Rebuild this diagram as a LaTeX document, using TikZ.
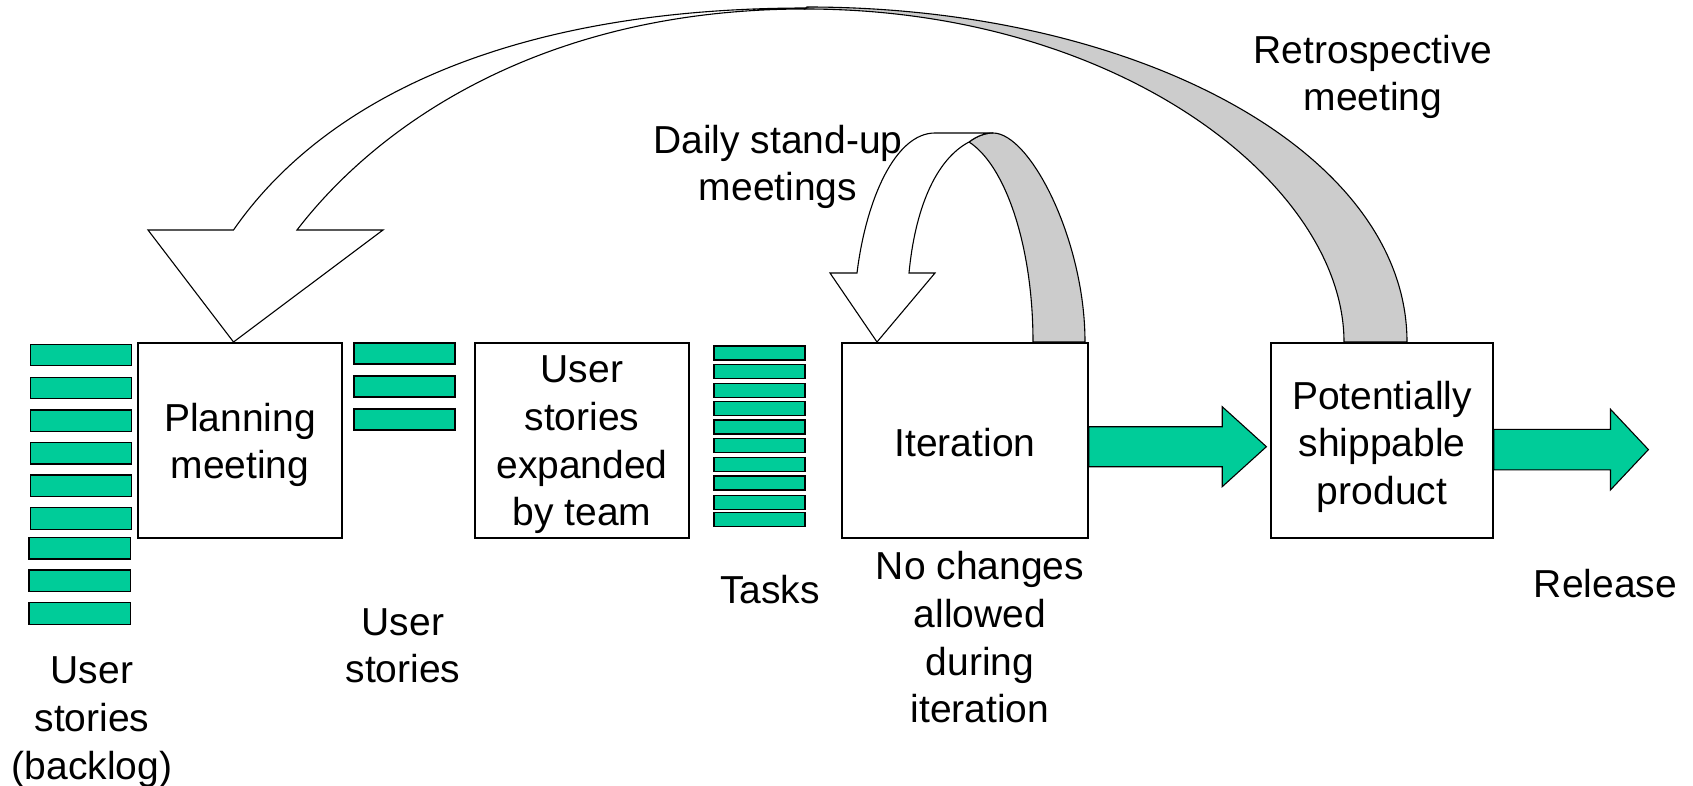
\documentclass[tikz,border=0pt]{standalone}
\usepackage{fontspec}
\setmainfont{Liberation Sans}
\usetikzlibrary{calc}
\definecolor{barGreen}{HTML}{00CC99}
\definecolor{backGray}{HTML}{CCCCCC}
\begin{document}
\begin{tikzpicture}[x=0.5pt,y=-0.5pt,
  every node/.style={font=\fontsize{19.5}{23.9}\selectfont, inner sep=0pt, align=center},
  box/.style={draw, line width=0.7pt, fill=white, minimum height=97.5pt},
  bar/.style={draw, line width=0.7pt, fill=barGreen},
  band/.style={draw, line width=0.55pt, fill=white, line join=miter},
  backband/.style={draw, line width=0.55pt, fill=backGray},
  flow/.style={draw, line width=0.55pt, fill=barGreen, line join=miter}]

\useasboundingbox (0,0) rectangle (1693,786);

% retrospective loop: back face (grey) and front face with head
\path[backband] (807,7) .. controls (1137,7) and (1407,152) .. (1407,342)
  -- (1344,342) .. controls (1344,185) and (1120,9) .. (805,9) -- cycle;
\coordinate (retroTip) at (233.5,342);
\path[band] (233.5,230) .. controls (323,101) and (507,8) .. (807,8)
  -- (805,9) .. controls (545,9) and (379.5,122.5) .. (297,230)
  -- (383,230) -- (retroTip) -- (148,230) -- cycle;

% daily loop: back face (grey) and front face with head
\path[backband] (969,142) .. controls (977,136) and (985,133) .. (993,133)
  .. controls (1030,133) and (1085,240) .. (1085,342)
  -- (1033,342) .. controls (1033,245) and (1005,165) .. (969,142) -- cycle;
\coordinate (dailyTip) at (877,342);
\path[band] (857,273) .. controls (866,200) and (895,133) .. (935,133)
  -- (993,133) .. controls (985,133) and (977,136) .. (969,142)
  .. controls (935,160) and (915,210) .. (909,273)
  -- (935,273) -- (dailyTip) -- (830,273) -- cycle;

% process boxes, text set slightly below the middle
\node[box, minimum width=102pt, label={[yshift=-2.2pt]center:{Planning\\meeting}}] (plan) at (240,440.5) {};
\node[box, minimum width=107pt, label={[yshift=-2.2pt]center:{User\\stories\\expanded\\by team}}] (expand) at (582,440.5) {};
\node[box, minimum width=123pt, label={[yshift=-1.2pt]center:{Iteration}}] (iter) at (965,440.5) {};
\node[box, minimum width=111pt, label={[yshift=-3.2pt]center:{Potentially\\shippable\\product}}] (ship) at (1382,440.5) {};

% story and task cards
\foreach \y in {344.3,377.3,410,442.3,475,507.7}
  \draw[bar] (30.3,\y) rectangle ++(101.4,21.5);
\foreach \y in {537.3,570,602.7}
  \draw[bar] (29,\y) rectangle ++(101.3,21.5);
\foreach \y in {343,376,409}
  \draw[bar] (354,\y) rectangle ++(101,21);
\foreach \y in {346,364.7,383.3,401.3,420,438.7,457.3,476,495.3,512.7}
  \draw[bar] (714,\y) rectangle ++(91,14);

% block arrows
\draw[flow] ($(iter.east)+(0,-13.8)$) -- ++(133.5,0) -- ++(0,-20) -- ++(44.2,40)
  -- ++(-44.2,40) -- ++(0,-20) -- ++(-133.5,0) -- cycle;
\draw[flow] ($(ship.east)+(0,-11.2)$) -- ++(116.8,0) -- ++(0,-20) -- ++(37.9,40.3)
  -- ++(-37.9,40.3) -- ++(0,-20) -- ++(-116.8,0) -- cycle;

% captions
\node (retro) at (1373,77) {Retrospective\\meeting};
\node (daily) at (778,167) {Daily stand-up\\meetings};
\node (tasks) at (770,590) {Tasks};
\node (nochg) at (980,637.3) {No changes\\allowed\\during\\iteration};
\node (rel) at (1605.5,584) {Release};
\node (us) at (403,645.7) {User\\stories};
\node (backlog) at (92,722) {User\\stories\\(backlog)};
\end{tikzpicture}
\end{document}
